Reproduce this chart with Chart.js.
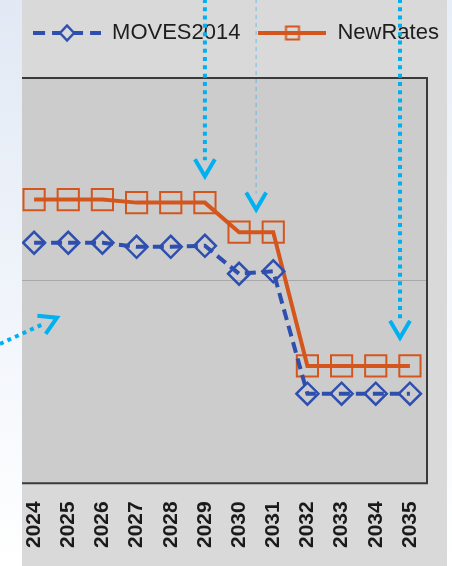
<!DOCTYPE html>
<html><head><meta charset="utf-8">
<script src="https://cdn.jsdelivr.net/npm/chart.js@4.4.1/dist/chart.umd.min.js"></script>
<style>html,body{margin:0;padding:0;background:#fff;overflow:hidden}#wrap{position:relative;width:452px;height:566px}canvas{display:block}</style>
</head><body><div id="wrap"><canvas id="c" width="452" height="566"></canvas></div>
<script>
// ---- data ----
const categories = ['2024','2025','2026','2027','2028','2029','2030','2031','2032','2033','2034','2035'];
const moves2014 = [1.187,1.187,1.187,1.167,1.167,1.172,1.034,1.046,0.442,0.442,0.442,0.442];
const newRates  = [1.400,1.400,1.400,1.385,1.385,1.385,1.239,1.239,0.579,0.579,0.579,0.579];
const seriesNames = ['MOVES2014','NewRates'];
const yTickValues = [0,1,2];
// callout arrows: start and tip in (category index, y value) units
const calloutStartX = [5, 6.5, 10.71, -1.0];
const calloutStartY = [2.39, 2.39, 2.39, 0.688];
const calloutTipX   = [5, 6.5, 10.71, 0.67];
const calloutTipY   = [1.515, 1.351, 0.718, 0.817];
const calloutFaint  = [false, true, false, false];

const FONT = "'Liberation Sans', Arial, sans-serif";
const BLUE = '#2f4fae';
const ORANGE = '#d4561d';

function legendSample(kind){
  const cv = document.createElement('canvas');
  cv.width = 68; cv.height = 20;
  const c = cv.getContext('2d');
  c.lineWidth = 4;
  if (kind === 0){
    c.strokeStyle = BLUE; c.setLineDash([12,7]);
    c.beginPath(); c.moveTo(0,10); c.lineTo(68,10); c.stroke();
    c.setLineDash([]); c.lineWidth = 2.5;
    c.beginPath(); c.moveTo(34,2.5); c.lineTo(41,10); c.lineTo(34,17.5); c.lineTo(27,10); c.closePath();
    c.fillStyle = '#d9d9d9'; c.fill(); c.stroke();
  } else {
    c.strokeStyle = ORANGE;
    c.beginPath(); c.moveTo(0,10); c.lineTo(68,10); c.stroke();
    c.lineWidth = 2;
    c.strokeRect(27.5,3.5,13,13);
  }
  return cv;
}
const samples = [legendSample(0), legendSample(1)];

const chartPlugin = {
  id: 'decor',
  afterLayout(chart){
    const l = chart.legend;
    l.top -= 24; l.bottom -= 24; l.left += 10; l.right += 10;
  },
  beforeDraw(chart){
    const {ctx, width, height, chartArea: a} = chart;
    ctx.save();
    ctx.fillStyle = '#d9d9d9'; ctx.fillRect(0,0,width,height);
    const g = ctx.createLinearGradient(0,0,0,height);
    g.addColorStop(0,'#e8eef7'); g.addColorStop(1,'#ffffff');
    ctx.fillStyle = g; ctx.fillRect(447,0,width-447,height);
    ctx.fillStyle = '#cccccc'; ctx.fillRect(a.left,a.top,a.right-a.left,a.bottom-a.top);
    ctx.restore();
  },
  beforeDatasetsDraw(chart){
    const {ctx, chartArea: a} = chart;
    ctx.save();
    ctx.strokeStyle = '#3a3a3a'; ctx.lineWidth = 2;
    ctx.beginPath();
    ctx.moveTo(a.left, a.top); ctx.lineTo(a.right, a.top); ctx.lineTo(a.right, a.bottom); ctx.lineTo(a.left, a.bottom);
    ctx.stroke();
    ctx.restore();
  },
  afterDatasetsDraw(chart){
    const {ctx, height} = chart;
    ctx.save();
    const g = ctx.createLinearGradient(0,0,0,height);
    g.addColorStop(0,'#e2e9f4'); g.addColorStop(0.55,'#f1f5fb'); g.addColorStop(1,'#ffffff');
    ctx.fillStyle = g; ctx.fillRect(0,0,22,height);
    ctx.restore();
  },
  afterDraw(chart){
    const {ctx} = chart;
    const xs = chart.scales.x, ys = chart.scales.y;
    ctx.save();
    for (let i = 0; i < calloutTipX.length; i++){
      const sx = xs.getPixelForValue(calloutStartX[i]), sy = ys.getPixelForValue(calloutStartY[i]);
      const tx = xs.getPixelForValue(calloutTipX[i]), ty = ys.getPixelForValue(calloutTipY[i]);
      const len = Math.hypot(tx-sx, ty-sy);
      const dx = (tx-sx)/len, dy = (ty-sy)/len;
      const nx = -dy, ny = dx;
      const ex = tx - dx*16, ey = ty - dy*16;
      if (calloutFaint[i]){
        ctx.strokeStyle = 'rgba(0,176,240,0.35)'; ctx.lineWidth = 1.5; ctx.setLineDash([4,4]);
      } else {
        ctx.strokeStyle = '#00b0f0'; ctx.lineWidth = 4; ctx.setLineDash([4,4.3]);
      }
      ctx.lineCap = 'butt';
      ctx.beginPath(); ctx.moveTo(sx,sy); ctx.lineTo(ex,ey); ctx.stroke();
      ctx.setLineDash([]);
      ctx.strokeStyle = '#00b0f0'; ctx.lineWidth = 4; ctx.lineJoin = 'miter';
      const h = 17, w = 10;
      ctx.beginPath();
      ctx.moveTo(tx - dx*h + nx*w, ty - dy*h + ny*w);
      ctx.lineTo(tx, ty);
      ctx.lineTo(tx - dx*h - nx*w, ty - dy*h - ny*w);
      ctx.stroke();
    }
    ctx.restore();
  }
};

new Chart(document.getElementById('c'), {
  type: 'line',
  data: {
    labels: categories,
    datasets: [
      { label: seriesNames[0], data: moves2014, borderColor: BLUE, borderWidth: 4, borderDash: [11,6],
        pointStyle: 'rectRot', pointRadius: 11, pointBorderWidth: 2.5, pointBorderColor: BLUE,
        pointBackgroundColor: 'rgba(0,0,0,0)', tension: 0, fill: false },
      { label: seriesNames[1], data: newRates, borderColor: ORANGE, borderWidth: 4,
        pointStyle: 'rect', pointRadius: 15, pointBorderWidth: 2, pointBorderColor: ORANGE,
        pointBackgroundColor: 'rgba(0,0,0,0)', tension: 0, fill: false }
    ]
  },
  options: {
    responsive: false, animation: false, devicePixelRatio: 1,
    layout: { padding: { left: 0, right: 0, top: 28, bottom: 0 } },
    plugins: {
      tooltip: { enabled: false },
      legend: {
        position: 'top',
        labels: {
          usePointStyle: true, pointStyleWidth: 68, padding: 18, color: '#1e1e1e',
          font: { family: FONT, size: 22 },
          generateLabels(chart){
            return Chart.defaults.plugins.legend.labels.generateLabels(chart)
              .sort((a,b) => a.datasetIndex - b.datasetIndex)
              .map(it => Object.assign(it, { pointStyle: samples[it.datasetIndex] }));
          }
        }
      }
    },
    scales: {
      x: {
        type: 'category', offset: true,
        afterFit(s){ s.paddingLeft = 0; s.paddingRight = 0; },
        grid: { display: false, drawTicks: false }, border: { display: false },
        ticks: { autoSkip: false, minRotation: 90, maxRotation: 90, padding: 18, color: '#1a1a1a',
                 font: { family: FONT, size: 21, weight: 'bold' } }
      },
      y: {
        min: 0, max: 2,
        afterBuildTicks(s){ s.ticks = yTickValues.map(v => ({ value: v })); },
        afterFit(s){ s.width = 17; },
        ticks: { display: false },
        border: { display: false },
        grid: { drawTicks: false, lineWidth: 1,
                color: c => (c.tick && c.tick.value === yTickValues[1]) ? '#a8a8a8' : 'rgba(0,0,0,0)' }
      },
      yRight: {
        position: 'right', display: true,
        afterFit(s){ s.width = 25; },
        ticks: { display: false }, border: { display: false }, grid: { display: false }
      }
    }
  },
  plugins: [chartPlugin]
});
</script>
</body></html>
